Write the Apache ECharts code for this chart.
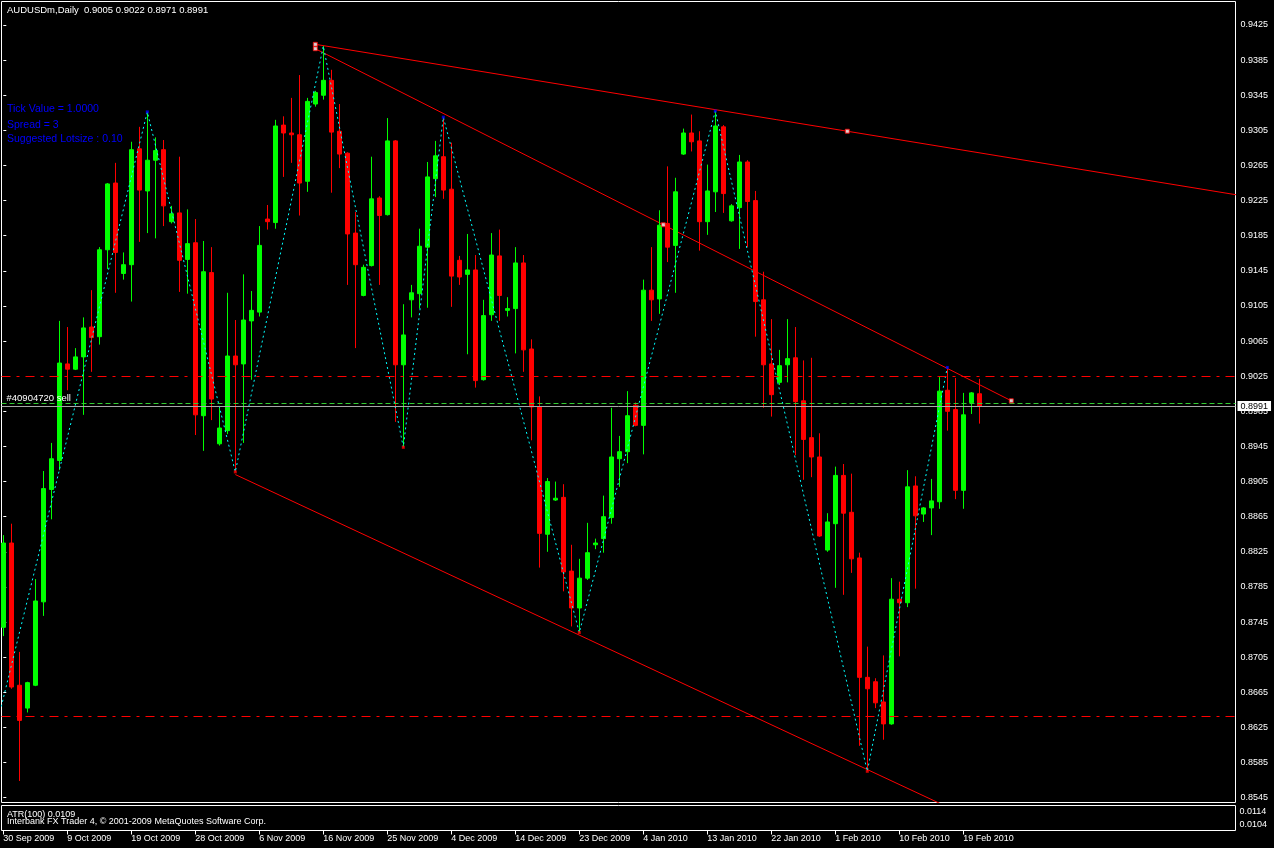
<!DOCTYPE html>
<html><head><meta charset="utf-8">
<script src="https://cdn.jsdelivr.net/npm/echarts@6/dist/echarts.min.js"></script>
<style>html,body{margin:0;padding:0;background:#000;overflow:hidden}#c{width:1274px;height:848px}</style>
</head><body><div id="c"></div>
<script>
// ---------------- data ----------------
const headerText = 'AUDUSDm,Daily  0.9005 0.9022 0.8971 0.8991';
const infoLines = ['Tick Value = 1.0000', 'Spread = 3', 'Suggested Lotsize : 0.10'];
const atrText = 'ATR(100) 0.0109';
const copyText = 'Interbank FX Trader 4, \u00a9 2001-2009 MetaQuotes Software Corp.';
const startDate = [2009, 8, 30];            // 30 Sep 2009, bars Sun..Fri
const holidays = ['2009-12-25', '2010-01-01'];
const labelEvery = 8;

const opens = [0.8739,0.8835,0.8673,0.8647,0.8673,0.8768,0.8896,0.8929,0.9039,0.9033,
0.9047,0.9081,0.9070,0.9169,0.9245,0.9142,0.9152,0.9284,0.9236,0.9271,
0.9283,0.9201,0.9211,0.9158,0.9177,0.8980,0.9143,0.8948,0.8963,0.9048,
0.9039,0.9088,0.9098,0.9204,0.9200,0.9311,0.9302,0.9300,0.9247,0.9335,
0.9345,0.9362,0.9304,0.9279,0.9188,0.9117,0.9151,0.9228,0.9209,0.9293,
0.9038,0.9112,0.9119,0.9172,0.9250,0.9275,0.9238,0.9157,0.9141,0.9146,
0.9021,0.9095,0.9162,0.9100,0.9102,0.9154,0.9056,0.8990,0.8845,0.8884,
0.8887,0.8803,0.8761,0.8795,0.8833,0.8840,0.8864,0.8931,0.8939,0.8992,
0.8969,0.9123,0.9113,0.9199,0.9174,0.9278,0.9302,0.9293,0.9201,0.9235,
0.9309,0.9202,0.9217,0.9269,0.9225,0.9112,0.9039,0.9018,0.9038,0.9046,
0.8997,0.8955,0.8933,0.8827,0.8857,0.8912,0.8870,0.8818,0.8682,0.8677,
0.8654,0.8629,0.8771,0.8767,0.8900,0.8868,0.8875,0.8882,0.9009,0.8987,
0.8895,0.8995,0.9005];
const highs = [0.8844,0.8857,0.8711,0.8677,0.8794,0.8917,0.8949,0.9088,0.9081,0.9057,
0.9092,0.9123,0.9172,0.9245,0.9268,0.9166,0.9292,0.9309,0.9326,0.9297,
0.9294,0.9219,0.9275,0.9215,0.9204,0.9179,0.9172,0.8989,0.9120,0.9089,
0.9141,0.9122,0.9196,0.9220,0.9317,0.9321,0.9342,0.9368,0.9342,0.9350,
0.9401,0.9374,0.9335,0.9280,0.9212,0.9152,0.9275,0.9230,0.9319,0.9294,
0.9107,0.9129,0.9193,0.9269,0.9293,0.9320,0.9291,0.9162,0.9187,0.9163,
0.9112,0.9188,0.9192,0.9115,0.9172,0.9163,0.9067,0.9002,0.8909,0.8905,
0.8902,0.8833,0.8817,0.8858,0.8840,0.8889,0.8989,0.8957,0.9008,0.8995,
0.9135,0.9172,0.9214,0.9264,0.9251,0.9307,0.9323,0.9304,0.9266,0.9327,
0.9311,0.9221,0.9277,0.9271,0.9236,0.9144,0.9090,0.9055,0.9090,0.9081,
0.9043,0.9046,0.8960,0.8869,0.8922,0.8925,0.8914,0.8824,0.8717,0.8681,
0.8707,0.8795,0.8791,0.8918,0.8911,0.8876,0.8908,0.9024,0.9035,0.9023,
0.9006,0.9007,0.9022];
const lows = [0.8729,0.8669,0.8564,0.8642,0.8672,0.8752,0.8862,0.8918,0.9009,0.9032,
0.8981,0.9030,0.9061,0.9147,0.9120,0.9135,0.9110,0.9178,0.9188,0.9182,
0.9196,0.9199,0.9121,0.9119,0.8958,0.8940,0.8975,0.8946,0.8959,0.8916,
0.8949,0.9021,0.9093,0.9192,0.9193,0.9252,0.9268,0.9208,0.9235,0.9332,
0.9340,0.9234,0.9262,0.9129,0.9057,0.9116,0.9150,0.9129,0.9208,0.8973,
0.8944,0.9092,0.9102,0.9103,0.9229,0.9227,0.9104,0.9129,0.9050,0.9012,
0.9020,0.9088,0.9088,0.9093,0.9051,0.9030,0.8952,0.8807,0.8825,0.8883,
0.8780,0.8740,0.8733,0.8793,0.8828,0.8824,0.8857,0.8899,0.8926,0.8968,
0.8936,0.9088,0.9096,0.9155,0.9120,0.9277,0.9281,0.9168,0.9186,0.9212,
0.9211,0.9201,0.9170,0.9172,0.9070,0.8989,0.8979,0.9015,0.9018,0.8935,
0.8907,0.8910,0.8842,0.8825,0.8784,0.8776,0.8801,0.8604,0.8575,0.8647,
0.8611,0.8628,0.8706,0.8762,0.8783,0.8859,0.8844,0.8874,0.8963,0.8885,
0.8874,0.8982,0.8971];
const closes = [0.8835,0.8671,0.8633,0.8676,0.8769,0.8897,0.8931,0.9040,0.9033,0.9047,
0.9080,0.9069,0.9169,0.9244,0.9166,0.9152,0.9283,0.9237,0.9271,0.9282,
0.9219,0.9210,0.9157,0.9176,0.8981,0.9144,0.8999,0.8966,0.9048,0.9038,
0.9089,0.9100,0.9174,0.9201,0.9310,0.9302,0.9300,0.9245,0.9338,0.9348,
0.9362,0.9303,0.9278,0.9187,0.9152,0.9149,0.9227,0.9208,0.9293,0.9038,
0.9072,0.9120,0.9173,0.9252,0.9276,0.9237,0.9139,0.9138,0.9146,0.9020,
0.9094,0.9163,0.9117,0.9102,0.9154,0.9055,0.8990,0.8846,0.8905,0.8886,
0.8802,0.8761,0.8795,0.8824,0.8835,0.8865,0.8933,0.8939,0.8980,0.8969,
0.9123,0.9112,0.9197,0.9172,0.9235,0.9302,0.9292,0.9201,0.9236,0.9310,
0.9233,0.9219,0.9269,0.9224,0.9110,0.9038,0.9004,0.9037,0.9045,0.8996,
0.8953,0.8933,0.8843,0.8859,0.8912,0.8869,0.8817,0.8682,0.8669,0.8653,
0.8629,0.8771,0.8767,0.8899,0.8866,0.8875,0.8883,0.9008,0.8985,0.8895,
0.8981,0.9006,0.8991];

const priceTicks = [0.8545,0.8585,0.8625,0.8665,0.8705,0.8745,0.8785,0.8825,0.8865,0.8905,0.8945,
0.8985,0.9025,0.9065,0.9105,0.9145,0.9185,0.9225,0.9265,0.9305,0.9345,0.9385,0.9425];
const atrTicks = [0.0104, 0.0114];

const stopLevel = 0.9025, takeLevel = 0.8638, orderLevel = 0.8994, bidLevel = 0.8991;
const orderLabel = '#40904720 sell';

// ZigZag turning points [bar, price]
const zigzag = [[-1,0.8621],[18,0.9326],[29,0.8916],[40,0.9401],[50,0.8944],[55,0.9320],
                [72,0.8733],[89,0.9327],[108,0.8575],[118,0.9035]];
const zigPeaks = [[18,0.9326],[55,0.9320],[89,0.9327],[118,0.9035]];
const zigTroughs = [[29,0.8916],[50,0.8944],[72,0.8733],[108,0.8575]];
// trend lines: anchor points [bar, price]
const trendUpper = [[39,0.9403],[172,0.9205]];
const trendMiddle = [[39,0.9398],[126,0.8997]];
const trendLower = [[29,0.8913],[108,0.8577]];   // ray to the right

// ---------------- build ----------------
function buildDates(n){
  const m=['Jan','Feb','Mar','Apr','May','Jun','Jul','Aug','Sep','Oct','Nov','Dec'];
  const out=[]; const d=new Date(Date.UTC(startDate[0],startDate[1],startDate[2]));
  while(out.length<n){
    const iso=d.toISOString().slice(0,10);
    if(d.getUTCDay()!==6 && holidays.indexOf(iso)<0)
      out.push(d.getUTCDate()+' '+m[d.getUTCMonth()]+' '+d.getUTCFullYear());
    d.setUTCDate(d.getUTCDate()+1);
  }
  return out;
}
const dates = buildDates(opens.length);
const dateTickIdx = dates.map((_,i)=>i).filter(i=>i%labelEvery===0);
const candles = opens.map((o,i)=>[i,o,closes[i],lows[i],highs[i]]);

function ray(a,b,toX){const s=(b[1]-a[1])/(b[0]-a[0]);return [a,[toX,a[1]+s*(toX-a[0])]];}
function mid(a,b){return [(a[0]+b[0])/2,(a[1]+b[1])/2];}

const FONT='Liberation Sans';
const RED='#ff0000';
const X_MIN=-0.225, X_MAX=154.025;

const chart = echarts.init(document.getElementById('c'), null, {renderer:'canvas'});
chart.setOption({
  backgroundColor:'#000',
  animation:false,
  textStyle:{fontFamily:FONT},
  grid:[
    {left:1.5, top:1.5, width:1234, height:801, show:true, borderColor:'#fff', borderWidth:1, backgroundColor:'transparent'},
    {left:1.5, top:805.5, width:1234, height:25, show:true, borderColor:'#fff', borderWidth:1, backgroundColor:'transparent'}
  ],
  xAxis:[
    {type:'value', gridIndex:0, min:X_MIN, max:X_MAX, show:false},
    {type:'value', gridIndex:1, min:X_MIN, max:X_MAX,
     axisLine:{show:false}, splitLine:{show:false},
     axisTick:{show:true, length:4, lineStyle:{color:'#fff'}, customValues:dateTickIdx},
     axisLabel:{show:true, customValues:dateTickIdx, color:'#fff', fontSize:9, fontFamily:FONT, align:'left', margin:4,
       formatter:v=>dates[Math.round(v)]||''}}
  ],
  yAxis:[
    {type:'value', gridIndex:0, position:'right', min:0.853947, max:0.945177, scale:true,
     axisLine:{show:false}, splitLine:{show:false},
     axisTick:{show:true, length:3, lineStyle:{color:'#fff'}, customValues:priceTicks},
     axisLabel:{show:true, customValues:priceTicks, color:'#fff', fontSize:9, fontFamily:FONT, margin:5,
       formatter:v=>v.toFixed(4)}},
    {type:'value', gridIndex:1, position:'right', min:0.009943, max:0.011912, scale:true,
     axisLine:{show:false}, splitLine:{show:false}, axisTick:{show:false},
     axisLabel:{show:true, customValues:atrTicks, color:'#fff', fontSize:9, fontFamily:FONT, margin:4,
       formatter:v=>v.toFixed(4)}}
  ],
  graphic:[
    {type:'text', z:10, style:{x:7, y:10.7, text:headerText, fill:'#fff', font:'9.5px "Liberation Sans"', verticalAlign:'middle'}},
    {type:'text', z:10, style:{x:7, y:109.5, text:infoLines[0], fill:'#0000ff', font:'10.5px "Liberation Sans"', verticalAlign:'middle'}},
    {type:'text', z:10, style:{x:7, y:125, text:infoLines[1], fill:'#0000ff', font:'10.5px "Liberation Sans"', verticalAlign:'middle'}},
    {type:'text', z:10, style:{x:7, y:139.5, text:infoLines[2], fill:'#0000ff', font:'10.5px "Liberation Sans"', verticalAlign:'middle'}},
    {type:'text', z:10, style:{x:7, y:815, text:atrText, fill:'#fff', font:'9px "Liberation Sans"', verticalAlign:'middle'}},
    {type:'text', z:10, style:{x:7, y:822, text:copyText, fill:'#fff', font:'9px "Liberation Sans"', verticalAlign:'middle'}}
  ],
  series:[
    {type:'line', name:'levels', xAxisIndex:0, yAxisIndex:0, data:[], z:1, clip:false, silent:true,
     markLine:{silent:true, symbol:['none','none'], animation:false, precision:4, label:{show:false},
       data:[
         {yAxis:stopLevel, lineStyle:{color:RED, width:1, type:[9,6,3,6]}},
         {yAxis:takeLevel, lineStyle:{color:RED, width:1, type:[9,6,3,6]}},
         {yAxis:orderLevel, lineStyle:{color:'#32cd32', width:1, type:[5,3]},
          label:{show:true, position:'insideStartTop', formatter:orderLabel, color:'#fff', fontSize:9.5, fontFamily:FONT, distance:[5,0]}},
         {yAxis:bidLevel, lineStyle:{color:'#a8a8a8', width:1, type:'solid'},
          label:{show:true, position:'end', formatter:()=>bidLevel.toFixed(4), color:'#000', backgroundColor:'#fff',
                 padding:[1,3,0,3], fontSize:9, fontFamily:FONT, distance:2}}
       ]}},
    {type:'line', xAxisIndex:0, yAxisIndex:0, data:trendUpper, z:1, symbol:'none', silent:true, lineStyle:{color:RED,width:1}},
    {type:'line', xAxisIndex:0, yAxisIndex:0, data:trendMiddle, z:1, symbol:'none', silent:true, lineStyle:{color:RED,width:1}},
    {type:'line', xAxisIndex:0, yAxisIndex:0, data:ray(trendLower[0],trendLower[1],170), z:1, symbol:'none', silent:true, lineStyle:{color:RED,width:1}},
    {type:'candlestick', xAxisIndex:0, yAxisIndex:0, data:candles, z:2, barWidth:4,
     itemStyle:{color:'#00ff00', color0:'#ff0000', borderColor:'#00ff00', borderColor0:'#ff0000', borderColorDoji:'#00ff00', borderWidth:1}},
    {type:'line', xAxisIndex:0, yAxisIndex:0, data:zigzag, z:3, symbol:'none', silent:true,
     lineStyle:{color:'#00ffff', width:1, type:[2,3]}},
    {type:'scatter', xAxisIndex:0, yAxisIndex:0, data:zigPeaks, z:4, symbol:'rect', symbolSize:3, silent:true,
     itemStyle:{color:'#0000ff'}},
    {type:'scatter', xAxisIndex:0, yAxisIndex:0, data:zigTroughs, z:4, symbol:'rect', symbolSize:3, silent:true,
     itemStyle:{color:'#ff0000'}},
    {type:'scatter', xAxisIndex:0, yAxisIndex:0, z:5, symbol:'rect', symbolSize:4, silent:true,
     data:[trendUpper[0], mid(trendUpper[0],trendUpper[1]), trendMiddle[0], mid(trendMiddle[0],trendMiddle[1]), trendMiddle[1]],
     itemStyle:{color:'#ffffff', borderColor:RED, borderWidth:1}}
  ]
});
</script></body></html>
